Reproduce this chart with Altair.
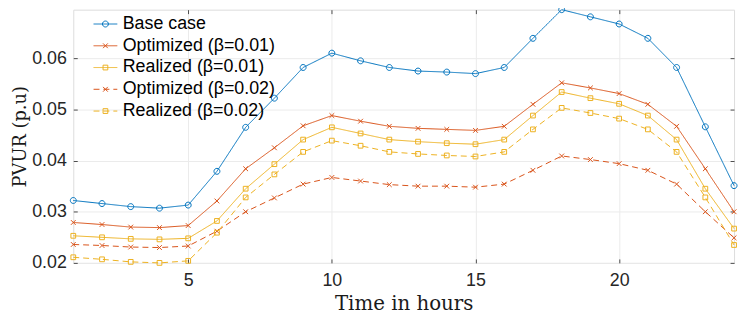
import altair as alt
import pandas as pd

hours = list(range(1, 25))
series_names = [
    "Base case",
    "Optimized (β=0.01)",
    "Realized (β=0.01)",
    "Optimized (β=0.02)",
    "Realized (β=0.02)",
]
base_case = [0.0322, 0.0316, 0.0310, 0.0307, 0.0313, 0.0379, 0.0465, 0.0522, 0.0582, 0.0610, 0.0595, 0.0582,
             0.0575, 0.0573, 0.0570, 0.0582, 0.0639, 0.0695, 0.0681, 0.0667, 0.0639, 0.0582, 0.0466, 0.0351]
opt_001 = [0.0279, 0.0275, 0.0270, 0.0269, 0.0273, 0.0321, 0.0384, 0.0425, 0.0468, 0.0488, 0.0477, 0.0467,
           0.0463, 0.0461, 0.0459, 0.0467, 0.0510, 0.0552, 0.0542, 0.0531, 0.0510, 0.0467, 0.0384, 0.0300]
real_001 = [0.0253, 0.0250, 0.0247, 0.0246, 0.0248, 0.0282, 0.0345, 0.0393, 0.0441, 0.0465, 0.0453, 0.0441,
            0.0437, 0.0434, 0.0432, 0.0441, 0.0488, 0.0534, 0.0522, 0.0511, 0.0488, 0.0441, 0.0345, 0.0267]
opt_002 = [0.0236, 0.0234, 0.0231, 0.0230, 0.0233, 0.0262, 0.0300, 0.0327, 0.0354, 0.0367, 0.0360, 0.0353,
           0.0350, 0.0350, 0.0348, 0.0354, 0.0381, 0.0409, 0.0402, 0.0394, 0.0381, 0.0354, 0.0300, 0.0249]
real_002 = [0.0211, 0.0207, 0.0202, 0.0200, 0.0204, 0.0259, 0.0328, 0.0373, 0.0417, 0.0439, 0.0429, 0.0417,
            0.0413, 0.0410, 0.0408, 0.0417, 0.0461, 0.0503, 0.0493, 0.0482, 0.0461, 0.0417, 0.0328, 0.0235]
x_ticks = [5, 10, 15, 20]
y_ticks = [0.02, 0.03, 0.04, 0.05, 0.06]

colors = ["#0072BD", "#D95319", "#EDB120", "#D95319", "#EDB120"]
dashes = [[1, 0], [1, 0], [1, 0], [6, 4], [6, 4]]
circle = "M-0.25,0A0.25,0.25 0 1,0 0.25,0A0.25,0.25 0 1,0 -0.25,0Z"
xmark = "M-0.2,-0.2L0.2,0.2M-0.2,0.2L0.2,-0.2"
square = "M-0.2,-0.2H0.2V0.2H-0.2Z"
shapes = [circle, xmark, square, xmark, square]

rows = []
for name, vals in zip(series_names, [base_case, opt_001, real_001, opt_002, real_002]):
    for h, v in zip(hours, vals):
        rows.append({"series": name, "hour": h, "value": v})
df = pd.DataFrame(rows)

SANS = "Liberation Sans"
SERIF = "DejaVu Serif"
FRAME = "#8c8c8c"
TICK = "#4d4d4d"
GRID = "#ebebeb"

xscale = alt.Scale(domain=[1, 24], nice=False, zero=False)
yscale = alt.Scale(domain=[0.02, 0.0695], nice=False, zero=False)
cscale = alt.Scale(domain=series_names, range=colors)

legend_common = dict(
    orient="none", legendX=20, legendY=2, title=None, padding=0,
    labelFont=SANS, labelFontSize=18, labelColor="#000000", labelLimit=400,
    symbolSize=576, symbolStrokeWidth=1, rowPadding=-2, labelOffset=5,
)

lines = alt.Chart(df).mark_line(strokeWidth=1).encode(
    x=alt.X("hour:Q", scale=xscale, axis=alt.Axis(
        values=x_ticks, title="Time in hours", grid=True, gridColor=GRID,
        domain=False, tickSize=4, offset=-4, tickColor=TICK,
        labelFont=SANS, labelFontSize=18, labelColor="#262626", labelPadding=9,
        titleFont=SERIF, titleFontSize=20, titleFontWeight="normal", titleColor="#1a1a1a",
        titlePadding=4)),
    y=alt.Y("value:Q", scale=yscale, axis=alt.Axis(
        values=y_ticks, format=".2f", title="PVUR (p.u)", grid=True, gridColor=GRID,
        domain=False, tickSize=4, offset=-4, tickColor=TICK,
        labelFont=SANS, labelFontSize=18, labelColor="#262626", labelPadding=7,
        titleFont=SERIF, titleFontSize=18, titleFontWeight="normal", titleColor="#1a1a1a",
        titlePadding=2)),
    color=alt.Color("series:N", scale=cscale, legend=alt.Legend(symbolType="stroke", **legend_common)),
    strokeDash=alt.StrokeDash("series:N", scale=alt.Scale(domain=series_names, range=dashes),
                              legend=alt.Legend(symbolType="stroke", **legend_common)),
    detail="series:N",
    order="hour:Q",
)

points = alt.Chart(df).mark_point(filled=False, size=576, strokeWidth=1, opacity=1).encode(
    x=alt.X("hour:Q", scale=xscale, axis=alt.Axis(
        orient="top", values=x_ticks, title="", labels=False, grid=False, domain=False,
        tickSize=4, offset=-4, tickColor=TICK)),
    y=alt.Y("value:Q", scale=yscale, axis=alt.Axis(
        orient="right", values=y_ticks, title="", labels=False, grid=False, domain=False,
        tickSize=4, offset=-4, tickColor=TICK)),
    color=alt.Color("series:N", scale=cscale, legend=alt.Legend(labelOpacity=0, **legend_common)),
    shape=alt.Shape("series:N", scale=alt.Scale(domain=series_names, range=shapes),
                    legend=alt.Legend(labelOpacity=0, **legend_common)),
)

chart = alt.layer(lines, points).resolve_axis(
    x="independent", y="independent"
).resolve_legend(
    color="independent", shape="independent", strokeDash="independent"
).properties(
    width=668, height=256,
    padding={"left": 66, "top": 0, "right": 5, "bottom": 52},
    autosize=alt.AutoSizeParams(type="none"),
).configure_view(
    stroke=FRAME, strokeWidth=1
).configure(background="#ffffff")

chart.save("out.html", embed_options={"renderer": "svg", "actions": False})
